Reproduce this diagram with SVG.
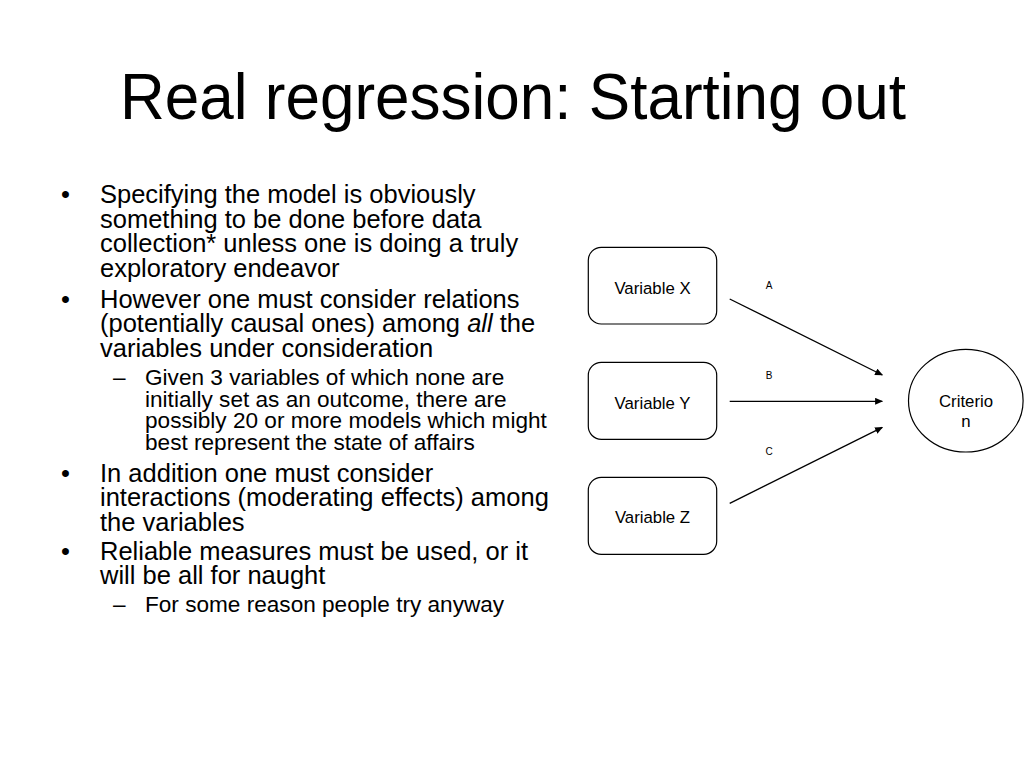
<svg xmlns="http://www.w3.org/2000/svg" width="1024" height="768" viewBox="0 0 1024 768">
<defs>
<style>
text{font-family:"Liberation Sans",Arial,sans-serif;fill:#000}
.title{font-size:64px}
.b{font-size:25.5px}
.s{font-size:22.6px}
.node rect{fill:#fff;stroke:#000;stroke-width:1.2}
.node ellipse{fill:#fff;stroke:#000;stroke-width:1.2}
.nl{font-size:16.8px;text-anchor:middle}
.el{font-size:10px;text-anchor:middle}
.conn line{stroke:#000;stroke-width:1.3;fill:none}
</style>
<marker id="arr" viewBox="0 0 10 10" refX="9" refY="5" markerWidth="8" markerHeight="7" orient="auto" markerUnits="userSpaceOnUse" preserveAspectRatio="none">
<path d="M0,0 L10,5 L0,10 z" fill="#000"/>
</marker>
</defs>
<rect width="1024" height="768" fill="#fff"/>
<text class="title" x="120" y="118.5" textLength="786" lengthAdjust="spacingAndGlyphs">Real regression: Starting out</text>

<g id="bullets">
<text class="b" x="61" y="203">•</text>
<text class="b" x="100" y="203">Specifying the model is obviously</text>
<text class="b" x="100" y="227.6">something to be done before data</text>
<text class="b" x="100" y="252.2">collection* unless one is doing a truly</text>
<text class="b" x="100" y="276.8">exploratory endeavor</text>
<text class="b" x="61" y="307.6">•</text>
<text class="b" x="100" y="307.6">However one must consider relations</text>
<text class="b" x="100" y="332.2">(potentially causal ones) among <tspan font-style="italic">all</tspan> the</text>
<text class="b" x="100" y="356.8">variables under consideration</text>
<text class="s" x="113" y="385">–</text>
<text class="s" x="145" y="385">Given 3 variables of which none are</text>
<text class="s" x="145" y="406.7">initially set as an outcome, there are</text>
<text class="s" x="145" y="428.4">possibly 20 or more models which might</text>
<text class="s" x="145" y="450.1">best represent the state of affairs</text>
<text class="b" x="61" y="481.5">•</text>
<text class="b" x="100" y="481.5">In addition one must consider</text>
<text class="b" x="100" y="506.1">interactions (moderating effects) among</text>
<text class="b" x="100" y="530.7">the variables</text>
<text class="b" x="61" y="559.5">•</text>
<text class="b" x="100" y="559.5">Reliable measures must be used, or it</text>
<text class="b" x="100" y="584.1">will be all for naught</text>
<text class="s" x="113" y="611.5">–</text>
<text class="s" x="145" y="611.5">For some reason people try anyway</text>
</g>

<g class="conn" id="connectors">
<line x1="729.7" y1="299" x2="882.3" y2="375" marker-end="url(#arr)"/>
<line x1="729.7" y1="401.3" x2="882.3" y2="401.3" marker-end="url(#arr)"/>
<line x1="729.7" y1="503.3" x2="882.3" y2="427.3" marker-end="url(#arr)"/>
<text class="el" x="769" y="289">A</text>
<text class="el" x="769" y="378.5">B</text>
<text class="el" x="769" y="455">C</text>
</g>

<g class="node" id="varX">
<rect x="588.3" y="247.3" width="128.4" height="76.7" rx="13" ry="13"/>
<text class="nl" x="652.5" y="294">Variable X</text>
</g>
<g class="node" id="varY">
<rect x="588.3" y="362.3" width="128.4" height="77" rx="13" ry="13"/>
<text class="nl" x="652.5" y="409">Variable Y</text>
</g>
<g class="node" id="varZ">
<rect x="588.3" y="477.3" width="128.4" height="77" rx="13" ry="13"/>
<text class="nl" x="652.5" y="522.7">Variable Z</text>
</g>
<g class="node" id="criterion">
<ellipse cx="965.8" cy="400.7" rx="57.3" ry="51.3"/>
<text class="nl" x="966" y="406.7">Criterio</text>
<text class="nl" x="966" y="427.3">n</text>
</g>
</svg>
